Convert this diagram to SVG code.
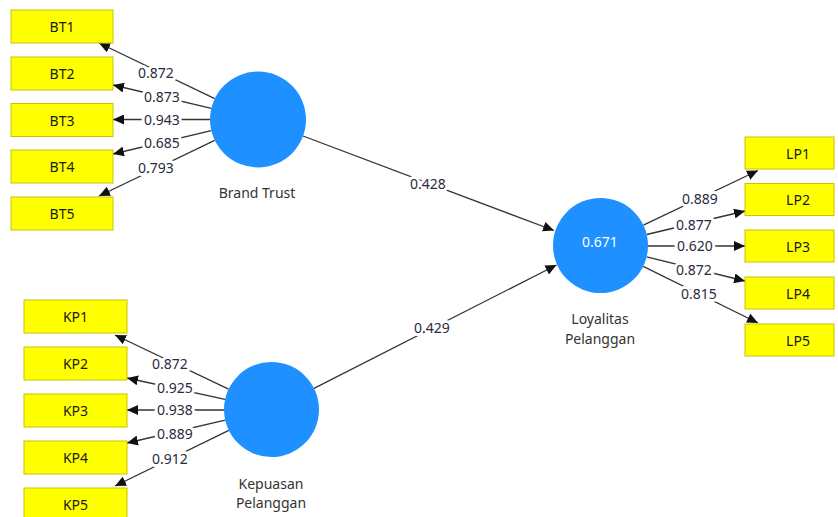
<svg xmlns="http://www.w3.org/2000/svg" width="838" height="517" viewBox="0 0 838 517">
<style>
text{font-family:"Noto Sans","Open Sans","Liberation Sans",sans-serif;font-size:14px;text-anchor:middle;dominant-baseline:central}
.ind rect{fill:#FFFF00;stroke:#C8C400;stroke-width:1}
.ind text{fill:#1a1a1a}
.lv circle{fill:#1E90FF}
.lv text{fill:#333}
.lv text.r2{fill:#fff}
.con line{stroke:#333;stroke-width:1.3;marker-end:url(#ah)}
.lbl{fill:#2a2a40;paint-order:stroke;stroke:#fff;stroke-width:6px;stroke-linejoin:round}
</style>
<defs>
<marker id="ah" markerUnits="userSpaceOnUse" markerWidth="12" markerHeight="10" refX="11" refY="5" orient="auto">
<path d="M0,0 L11,5 L0,10 z" fill="#111"/>
</marker>
</defs>
<rect width="838" height="517" fill="#fff"/>
<g id="connectors" class="con">
<line x1="214.7" y1="98.7" x2="99" y2="43"/>
<line x1="211.3" y1="108.4" x2="113" y2="85"/>
<line x1="210" y1="119.5" x2="113" y2="119.5"/>
<line x1="211.3" y1="130.6" x2="113" y2="154"/>
<line x1="214.7" y1="140.3" x2="99" y2="196"/>
<line x1="228.6" y1="389.1" x2="115" y2="335"/>
<line x1="225.1" y1="399.4" x2="127" y2="378"/>
<line x1="224" y1="410" x2="127" y2="410"/>
<line x1="225.2" y1="420.2" x2="127" y2="443"/>
<line x1="228.8" y1="430.4" x2="115" y2="486"/>
<line x1="643.4" y1="225.2" x2="758" y2="170.5"/>
<line x1="646.7" y1="234.5" x2="745" y2="211"/>
<line x1="648" y1="246" x2="745" y2="246"/>
<line x1="646.6" y1="256.8" x2="745" y2="281"/>
<line x1="643.2" y1="266.3" x2="758" y2="323"/>
<line x1="303" y1="136" x2="554" y2="230.5"/>
<line x1="314" y1="388.3" x2="556.5" y2="265"/>
<text class="lbl" x="156" y="72">0.872</text>
<text class="lbl" x="162" y="96.5">0.873</text>
<text class="lbl" x="162" y="119">0.943</text>
<text class="lbl" x="162" y="142.5">0.685</text>
<text class="lbl" x="156" y="167">0.793</text>
<text class="lbl" x="170" y="363">0.872</text>
<text class="lbl" x="175" y="387">0.925</text>
<text class="lbl" x="175" y="409.5">0.938</text>
<text class="lbl" x="175" y="433">0.889</text>
<text class="lbl" x="170" y="458">0.912</text>
<text class="lbl" x="700" y="198">0.889</text>
<text class="lbl" x="694" y="224.5">0.877</text>
<text class="lbl" x="695" y="245.5">0.620</text>
<text class="lbl" x="694" y="269">0.872</text>
<text class="lbl" x="699" y="293">0.815</text>
<text class="lbl" x="428" y="183">0.428</text>
<text class="lbl" x="432" y="327">0.429</text>
</g>
<g id="BT1" class="ind"><rect x="11" y="10" width="102" height="33"/><text x="62" y="26.5">BT1</text></g>
<g id="BT2" class="ind"><rect x="11" y="57" width="102" height="33"/><text x="62" y="73.5">BT2</text></g>
<g id="BT3" class="ind"><rect x="11" y="103.5" width="102" height="33"/><text x="62" y="120">BT3</text></g>
<g id="BT4" class="ind"><rect x="11" y="150" width="102" height="33"/><text x="62" y="166.5">BT4</text></g>
<g id="BT5" class="ind"><rect x="11" y="197" width="102" height="33"/><text x="62" y="213.5">BT5</text></g>
<g id="KP1" class="ind"><rect x="24" y="300" width="103" height="33"/><text x="75.5" y="316.5">KP1</text></g>
<g id="KP2" class="ind"><rect x="24" y="347" width="103" height="33"/><text x="75.5" y="363.5">KP2</text></g>
<g id="KP3" class="ind"><rect x="24" y="394" width="103" height="33"/><text x="75.5" y="410.5">KP3</text></g>
<g id="KP4" class="ind"><rect x="24" y="441" width="103" height="33"/><text x="75.5" y="457.5">KP4</text></g>
<g id="KP5" class="ind"><rect x="24" y="488" width="103" height="33"/><text x="75.5" y="504.5">KP5</text></g>
<g id="LP1" class="ind"><rect x="745" y="137" width="89" height="32"/><text x="798" y="153">LP1</text></g>
<g id="LP2" class="ind"><rect x="745" y="183.5" width="89" height="32"/><text x="798" y="199.5">LP2</text></g>
<g id="LP3" class="ind"><rect x="745" y="230" width="89" height="32"/><text x="798" y="246">LP3</text></g>
<g id="LP4" class="ind"><rect x="745" y="277" width="89" height="32"/><text x="798" y="293">LP4</text></g>
<g id="LP5" class="ind"><rect x="745" y="324" width="89" height="32"/><text x="798" y="340">LP5</text></g>
<g id="BrandTrust" class="lv"><circle cx="258" cy="119.5" r="48"/><text x="257" y="192">Brand Trust</text></g>
<g id="KepuasanPelanggan" class="lv"><circle cx="271.5" cy="409.5" r="47.5"/><text x="271" y="483">Kepuasan</text><text x="271" y="502">Pelanggan</text></g>
<g id="LoyalitasPelanggan" class="lv"><circle cx="600.5" cy="245.5" r="47.5"/><text class="r2" x="600" y="241">0.671</text><text x="600" y="318">Loyalitas</text><text x="600" y="338">Pelanggan</text></g>
</svg>
